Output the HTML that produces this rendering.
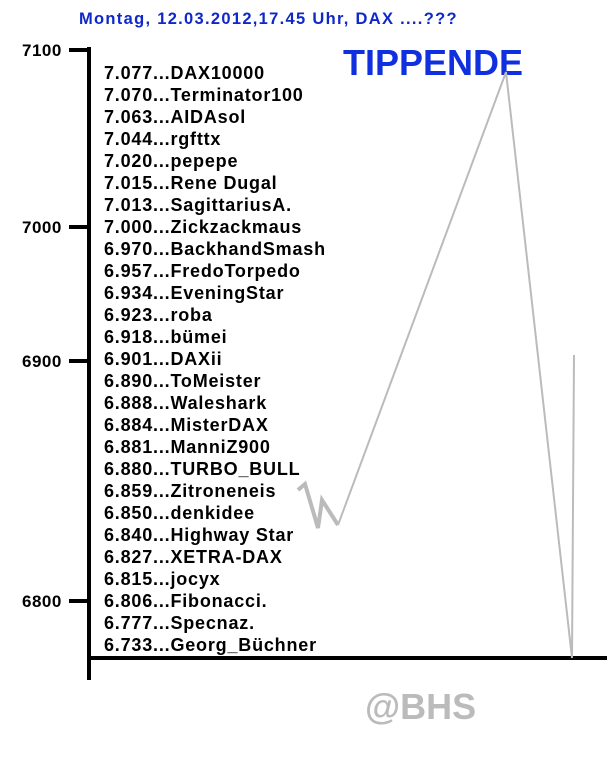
<!DOCTYPE html>
<html><head><style>
body{margin:0;background:#fff;width:607px;height:781px;overflow:hidden;position:relative;font-family:"Liberation Sans",Arial,sans-serif;font-weight:bold}
.t{position:absolute;white-space:nowrap}
.l{position:absolute;left:104px;font-size:18px;letter-spacing:0.8px;line-height:20px;white-space:nowrap;color:#000}
</style></head><body>
<div class="t" style="left:79px;top:10px;font-size:16.5px;letter-spacing:1.3px;color:#1028c8">Montag, 12.03.2012,17.45 Uhr, DAX ....???</div>
<div class="t" style="left:343px;top:42px;font-size:36px;color:#1030e0">TIPPENDE</div>
<div class="t" style="left:22px;top:41px;font-size:17px;letter-spacing:0.5px">7100</div>
<div class="t" style="left:22px;top:218px;font-size:17px;letter-spacing:0.5px">7000</div>
<div class="t" style="left:22px;top:352px;font-size:17px;letter-spacing:0.5px">6900</div>
<div class="t" style="left:22px;top:592px;font-size:17px;letter-spacing:0.5px">6800</div>
<svg width="607" height="781" style="position:absolute;left:0;top:0">
<g stroke="#000" stroke-width="4">
<line x1="89" y1="47" x2="89" y2="680"/>
<line x1="87" y1="658" x2="607" y2="658"/>
<line x1="69" y1="50" x2="89" y2="50"/>
<line x1="69" y1="227" x2="89" y2="227"/>
<line x1="69" y1="361" x2="89" y2="361"/>
<line x1="69" y1="601" x2="89" y2="601"/>
</g>
<polyline fill="none" stroke="#bbb" stroke-width="4" points="298,490 305,484 318,528 322,500 338,525"/>
<polyline fill="none" stroke="#bbb" stroke-width="2" points="338,525 506,72 572,658 574,355"/>
</svg>
<div class="l" style="top:63px">7.077...DAX10000</div>
<div class="l" style="top:85px">7.070...Terminator100</div>
<div class="l" style="top:107px">7.063...AIDAsol</div>
<div class="l" style="top:129px">7.044...rgfttx</div>
<div class="l" style="top:151px">7.020...pepepe</div>
<div class="l" style="top:173px">7.015...Rene Dugal</div>
<div class="l" style="top:195px">7.013...SagittariusA.</div>
<div class="l" style="top:217px">7.000...Zickzackmaus</div>
<div class="l" style="top:239px">6.970...BackhandSmash</div>
<div class="l" style="top:261px">6.957...FredoTorpedo</div>
<div class="l" style="top:283px">6.934...EveningStar</div>
<div class="l" style="top:305px">6.923...roba</div>
<div class="l" style="top:327px">6.918...bümei</div>
<div class="l" style="top:349px">6.901...DAXii</div>
<div class="l" style="top:371px">6.890...ToMeister</div>
<div class="l" style="top:393px">6.888...Waleshark</div>
<div class="l" style="top:415px">6.884...MisterDAX</div>
<div class="l" style="top:437px">6.881...ManniZ900</div>
<div class="l" style="top:459px">6.880...TURBO_BULL</div>
<div class="l" style="top:481px">6.859...Zitroneneis</div>
<div class="l" style="top:503px">6.850...denkidee</div>
<div class="l" style="top:525px">6.840...Highway Star</div>
<div class="l" style="top:547px">6.827...XETRA-DAX</div>
<div class="l" style="top:569px">6.815...jocyx</div>
<div class="l" style="top:591px">6.806...Fibonacci.</div>
<div class="l" style="top:613px">6.777...Specnaz.</div>
<div class="l" style="top:635px">6.733...Georg_Büchner</div>
<div class="t" style="left:365px;top:686px;font-size:36px;color:#bbb">@BHS</div>
</body></html>
